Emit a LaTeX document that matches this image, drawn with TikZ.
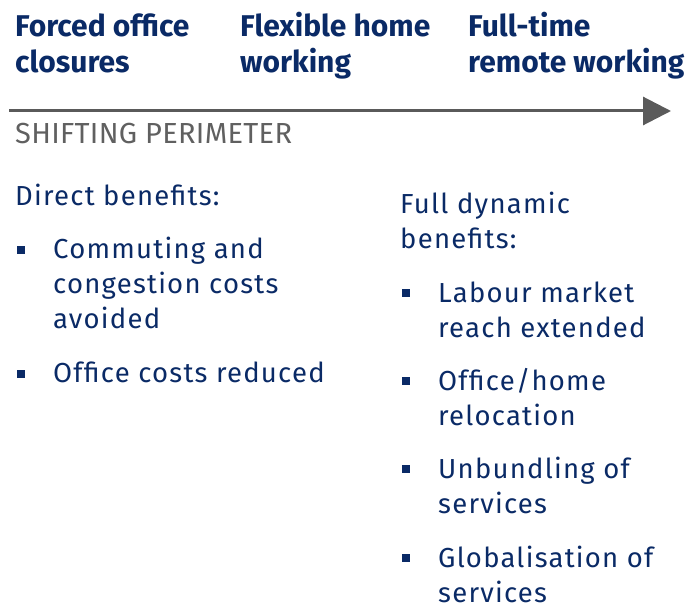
\documentclass[tikz,border=0pt]{standalone}
\usepackage{fontspec}
\setmainfont{Fira Sans}
\newfontfamily\bodyfont[LetterSpace=4.5]{Fira Sans}
\newfontfamily\labelfont[LetterSpace=1.0]{Fira Sans}
\usetikzlibrary{arrows.meta}
\definecolor{navy}{RGB}{10,42,102}
\definecolor{axisgray}{RGB}{90,90,90}
\definecolor{labelgray}{RGB}{96,96,96}
\newcommand{\stacklines}[1]{\begin{tabular}[t]{@{}l@{}}#1\end{tabular}}
\tikzset{
  stage/.style={anchor=base west, inner sep=0pt, text=navy,
    font=\fontsize{30}{36}\selectfont\bfseries},
  bodytext/.style={anchor=base west, inner sep=0pt, text=navy,
    font=\bodyfont\fontsize{27.5}{35}\selectfont},
  bulletmark/.style={fill=navy, draw=none, inner sep=0pt, minimum size=8pt},
  perimeter/.style={anchor=base west, inner sep=0pt, text=labelgray,
    font=\labelfont\fontsize{29}{30}\selectfont},
}
\begin{document}
\begin{tikzpicture}[x=1pt, y=-1pt]
  \useasboundingbox (0,0) rectangle (692,604);

  % stages along the axis
  \node[stage] (s1) at (15,37)  {\stacklines{Forced office\\closures}};
  \node[stage] (s2) at (240,37) {\stacklines{Flexible home\\working}};
  \node[stage] (s3) at (468,37) {\stacklines{Full-time\\remote working}};

  % axis
  \coordinate (axl) at (9,111);
  \coordinate (axr) at (671,111);
  \draw[axisgray, line width=3pt,
        -{Triangle[length=28pt, width=28pt]}] (axl) -- (axr);

  \node[perimeter] (per) at (15,144) {SHIFTING PERIMETER};

  % direct benefits
  \node[bodytext] (dhead) at (15,205) {Direct benefits:};
  \node[bulletmark] (db1) at (21,250) {};
  \node[bodytext] (d1) at (53,258) {\stacklines{Commuting and\\congestion costs\\avoided}};
  \node[bulletmark] (db2) at (21,374) {};
  \node[bodytext] (d2) at (53,382) {Office costs reduced};

  % full dynamic benefits
  \node[bodytext] (fhead) at (400,213) {\stacklines{Full dynamic\\benefits:}};
  \node[bulletmark] (fb1) at (406,293) {};
  \node[bodytext] (f1) at (438,302) {\stacklines{Labour market\\reach extended}};
  \node[bulletmark] (fb2) at (406,381) {};
  \node[bodytext] (f2) at (438,390) {\stacklines{Office/home\\relocation}};
  \node[bulletmark] (fb3) at (406,469) {};
  \node[bodytext] (f3) at (438,478) {\stacklines{Unbundling of\\services}};
  \node[bulletmark] (fb4) at (406,558) {};
  \node[bodytext] (f4) at (438,567) {\stacklines{Globalisation of\\services}};
\end{tikzpicture}
\end{document}
